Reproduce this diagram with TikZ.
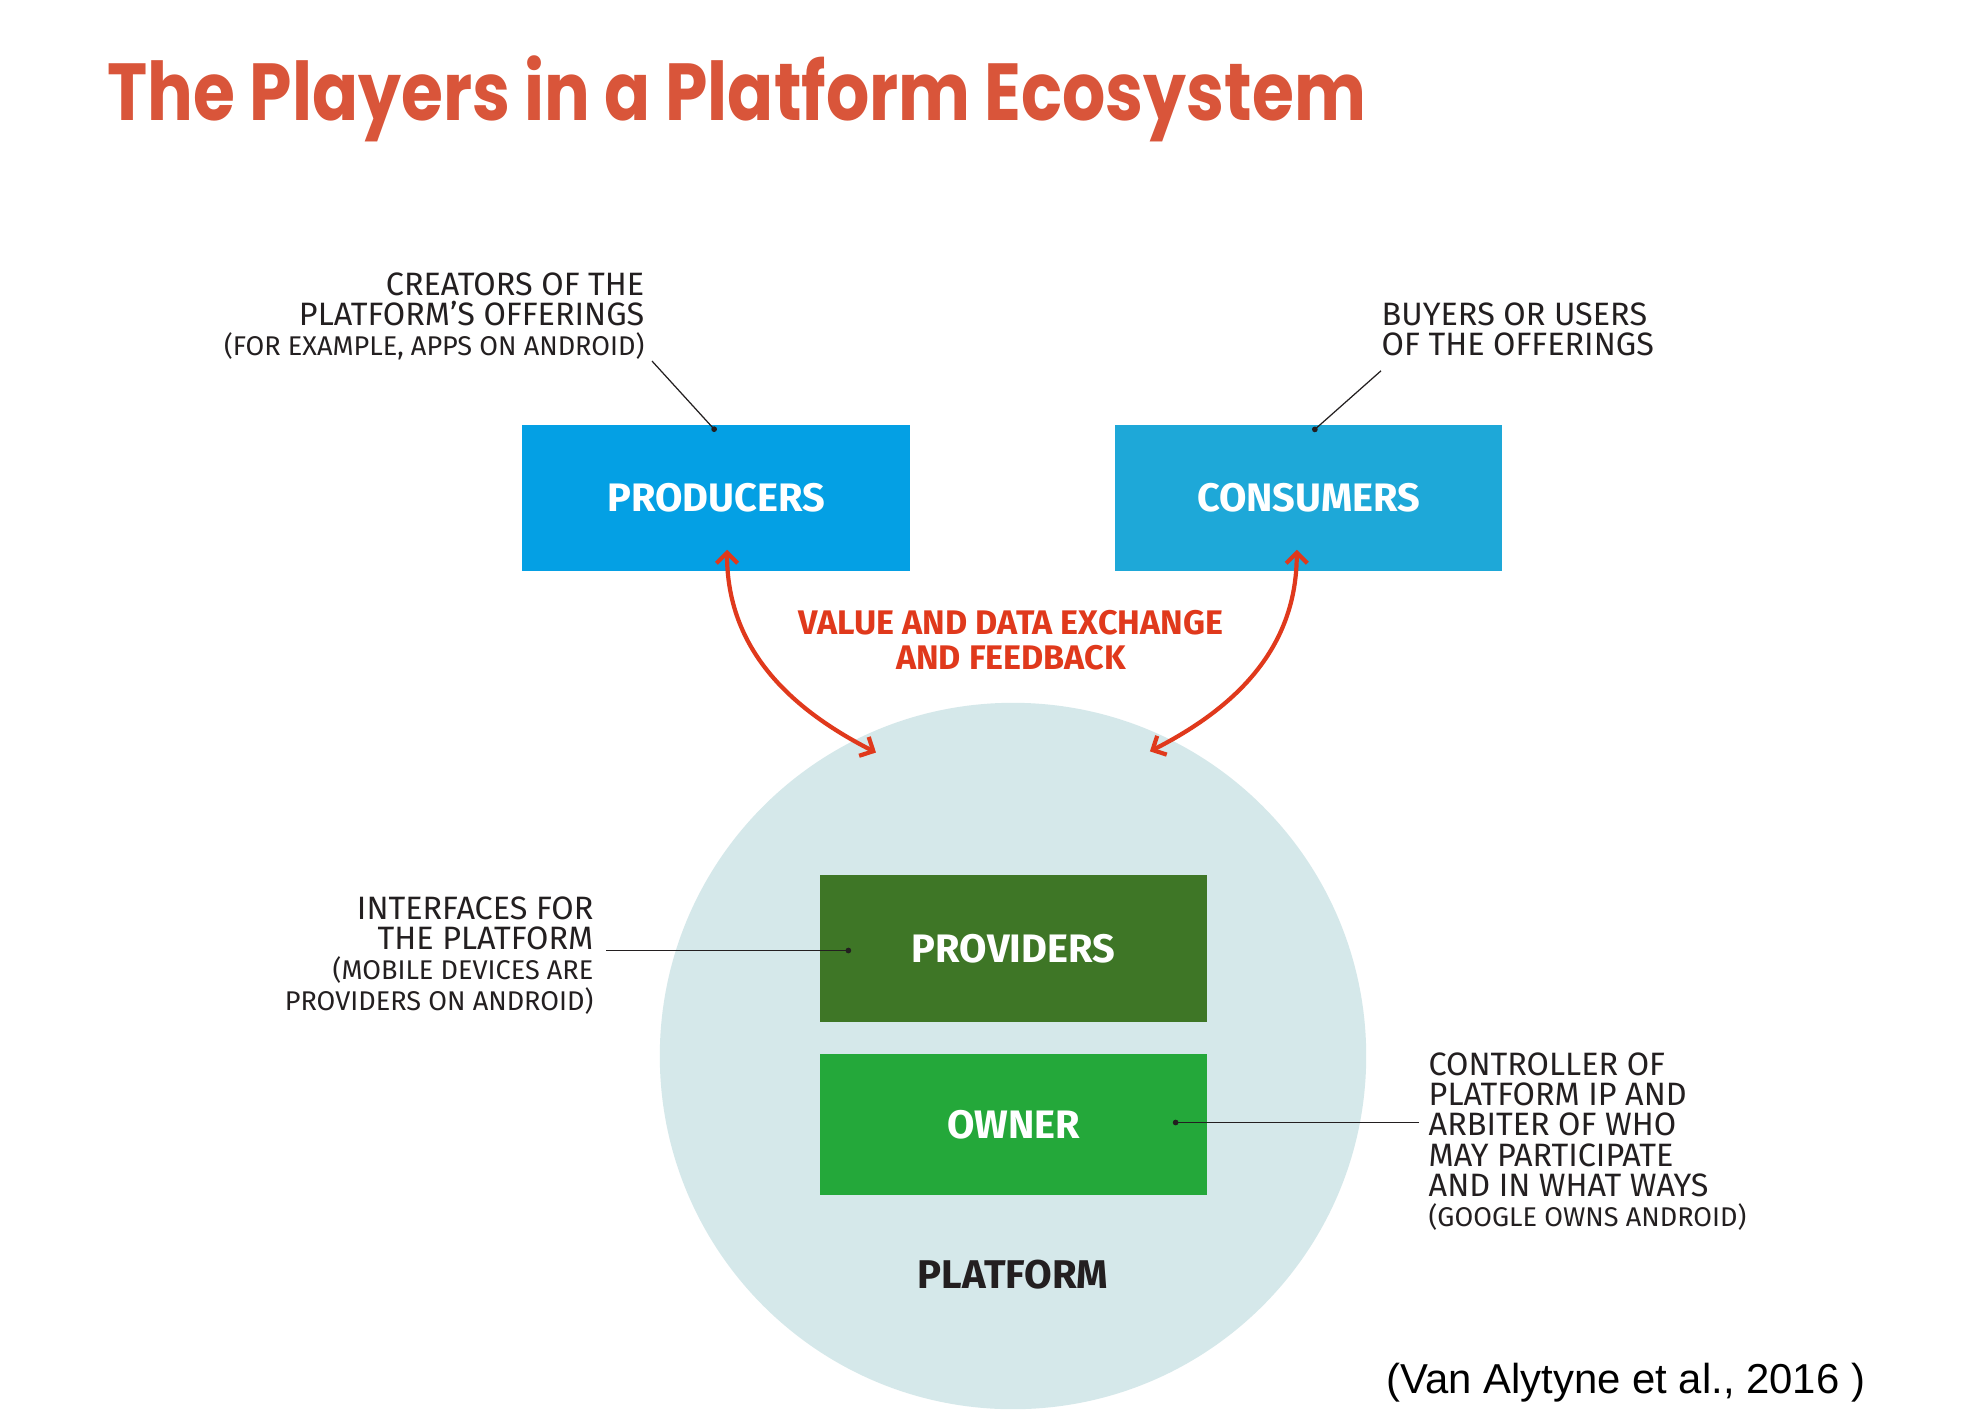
\documentclass[tikz,border=0pt]{standalone}
\usepackage{fontspec}
\usepackage{xcolor}
\usepackage{tikz}
\usetikzlibrary{arrows.meta,positioning,calc}

\setmainfont{Fira Sans}
\newfontfamily\titlefont[FakeStretch=0.84]{Poppins}
\newfontfamily\citefont{Liberation Sans}

\definecolor{titleorange}{HTML}{D9553A}
\definecolor{prodblue}{HTML}{04A0E4}
\definecolor{consblue}{HTML}{1EA8D8}
\definecolor{provgreen}{HTML}{3E7626}
\definecolor{ownergreen}{HTML}{24A83A}
\definecolor{platgrey}{HTML}{D5E8EA}
\definecolor{exchred}{HTML}{E0391C}
\definecolor{inkdark}{HTML}{231F20}

\begin{document}
\begin{tikzpicture}[
    x=0.01cm, y=0.01cm,
    box/.style={rectangle, minimum width=3.87cm, minimum height=1.46cm, text=white, font=\fontsize{11.3}{13}\selectfont\bfseries},
    note/.style={inner sep=0pt, text=inkdark, font=\fontsize{9.2}{8.6}\selectfont},
    lead/.style={-{Circle[length=1.6pt]}, line width=0.35pt, inkdark},
    exch/.style={{Straight Barb[length=3pt,width=6pt]}-{Straight Barb[length=3pt,width=6pt]}, line width=1.2pt, exchred}
]
    \fill[white] (0,0) rectangle (1976,-1424);
    \useasboundingbox (0,0) rectangle (1976,-1424);

    \node[anchor=base west, inner sep=0pt, text=titleorange, font=\titlefont\bfseries\fontsize{23}{28}\selectfont] (title) at (107,-120) {The Players in a Platform Ecosystem};

    % platform and players
    \node[circle, fill=platgrey, minimum size=7.06cm, inner sep=0pt] (plat) at (1013,-1056) {};
    \node[box, fill=prodblue] (prod) at (716,-498) {PRODUCERS};
    \node[box, fill=consblue, right=2.04cm of prod] (cons) {CONSUMERS};
    \node[box, fill=provgreen] (prov) at (1013.5,-948.5) {PROVIDERS};
    \node[box, fill=ownergreen, minimum height=1.41cm, below=0.31cm of prov] (own) {OWNER};
    \node[text=inkdark, font=\fontsize{11.4}{13}\selectfont\bfseries] (platlbl) at (1013,-1275) {PLATFORM};

    % notes
    \node[note, align=right, anchor=north east] (creat) at (645,-272) {CREATORS OF THE\\PLATFORM’S OFFERINGS\\{\fontsize{7.7}{8.6}\selectfont (FOR EXAMPLE, APPS ON ANDROID)}};
    \node[note, align=left, anchor=north west] (buyers) at (1381,-302) {BUYERS OR USERS\\OF THE OFFERINGS};
    \node[note, align=right, anchor=north east] (interf) at (594,-896) {INTERFACES FOR\\THE PLATFORM\\{\fontsize{7.7}{8.6}\selectfont (MOBILE DEVICES ARE}\\{\fontsize{7.7}{8.6}\selectfont PROVIDERS ON ANDROID)}};
    \node[note, align=left, anchor=north west] (ctrl) at (1428,-1052) {CONTROLLER OF\\PLATFORM IP AND\\ARBITER OF WHO\\MAY PARTICIPATE\\AND IN WHAT WAYS\\{\fontsize{7.7}{8.6}\selectfont (GOOGLE OWNS ANDROID)}};
    \node[text=exchred, align=center, font=\fontsize{9.7}{10}\selectfont\bfseries] (value) at (1011,-640) {VALUE AND DATA EXCHANGE\\AND FEEDBACK};

    \node[anchor=base west, inner sep=0pt, font=\citefont\fontsize{11.9}{14}\selectfont] (cite) at (1386,-1393) {(Van Alytyne et al., 2016 )};

    % leader lines
    \draw[lead] ([xshift=2pt]creat.south east) -- ([shift={(0,-7)}]prod.north);
    \draw[lead] ([yshift=-4]buyers.south west) -- ([shift={(4,-7)}]cons.north);
    \draw[lead] ($(interf.east |- prov.west)+(12,-2)$) -- ([shift={(32,-2)}]prov.west);
    \draw[lead] ($(ctrl.west |- own.east)+(-9,2)$) -- ([shift={(-35,2)}]own.east);

    % exchange arrows
    \draw[exch] ([shift={(11,22)}]prod.south) to[out=270, in=153] ($(plat.center)+(114.3:333)$);
    \draw[exch] ([shift={(-12,22)}]cons.south) to[out=270, in=27] ($(plat.center)+(65.8:334)$);
\end{tikzpicture}
\end{document}
